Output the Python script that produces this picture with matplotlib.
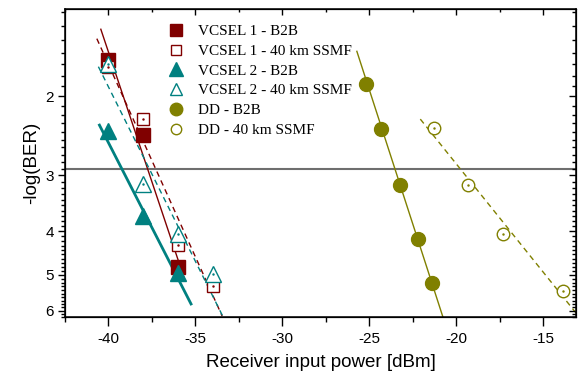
import numpy as np
import matplotlib.pyplot as plt
from matplotlib.lines import Line2D
from matplotlib.ticker import FixedLocator, MultipleLocator, NullFormatter

plt.rcParams['axes.unicode_minus'] = False

# measured points, -log(BER) vs received power (dBm)
vcsel1_b2b_x = [-40, -38, -36]
vcsel1_b2b_y = [1.66, 2.44, 4.81]
vcsel1_40_x = [-40, -38, -36, -34]
vcsel1_40_y = [1.72, 2.25, 4.28, 5.28]
vcsel2_b2b_x = [-40, -38, -36]
vcsel2_b2b_y = [2.39, 3.69, 4.96]
vcsel2_40_x = [-40, -38, -36, -34]
vcsel2_40_y = [1.70, 3.14, 4.05, 4.98]
dd_b2b_x = [-25.2, -24.3, -23.2, -22.2, -21.4]
dd_b2b_y = [1.88, 2.37, 3.16, 4.16, 5.22]
dd_40_x = [-21.3, -19.3, -17.3, -13.85]
dd_40_y = [2.35, 3.15, 4.05, 5.43]

# linear fit lines (end points)
fit_vcsel1_b2b_x = [-40.44, -35.63]
fit_vcsel1_b2b_y = [1.42, 5.10]
fit_vcsel1_40_x = [-40.67, -33.46]
fit_vcsel1_40_y = [1.49, 6.17]
fit_vcsel2_b2b_x = [-40.52, -35.25]
fit_vcsel2_b2b_y = [2.32, 5.80]
fit_vcsel2_40_x = [-40.58, -33.43]
fit_vcsel2_40_y = [1.72, 6.17]
fit_dd_b2b_x = [-25.71, -20.76]
fit_dd_b2b_y = [1.59, 6.2]
fit_dd_40_x = [-22.06, -12.99]
fit_dd_40_y = [2.25, 6.15]

fec_limit = 2.9

labels = ['VCSEL 1 - B2B', 'VCSEL 1 - 40 km SSMF', 'VCSEL 2 - B2B',
          'VCSEL 2 - 40 km SSMF', 'DD - B2B', 'DD - 40 km SSMF']

red = '#800000'
teal = '#008080'
olive = '#808000'

fig = plt.figure(figsize=(5.79, 3.78), dpi=100)
ax = fig.add_axes([0.1123, 0.1614, 0.8826, 0.8148])

dash = (4, 3)
# fit lines
ax.plot(fit_vcsel1_b2b_x, fit_vcsel1_b2b_y, color=red, lw=1)
ax.plot(fit_vcsel1_40_x, fit_vcsel1_40_y, color=red, lw=1, dashes=dash)
ax.plot(fit_vcsel2_b2b_x, fit_vcsel2_b2b_y, color=teal, lw=2)
ax.plot(fit_vcsel2_40_x, fit_vcsel2_40_y, color=teal, lw=1, dashes=dash)
ax.plot(fit_dd_b2b_x, fit_dd_b2b_y, color=olive, lw=1)
ax.plot(fit_dd_40_x, fit_dd_40_y, color=olive, lw=1, dashes=dash)

ax.axhline(fec_limit, color='#6e6e6e', lw=1.5, zorder=1)

# markers
ax.plot(vcsel1_b2b_x, vcsel1_b2b_y, 's', color=red, ms=10, mec=red)
ax.plot(vcsel1_40_x, vcsel1_40_y, 's', mfc='white', mec=red, ms=9, mew=1)
ax.plot(vcsel2_b2b_x, vcsel2_b2b_y, '^', color=teal, ms=11, mec=teal)
ax.plot(vcsel2_40_x, vcsel2_40_y, '^', mfc='white', mec=teal, ms=11, mew=1)
ax.plot(dd_b2b_x, dd_b2b_y, 'o', color=olive, ms=10, mec=olive)
ax.plot(dd_40_x, dd_40_y, 'o', mfc='white', mec=olive, ms=9, mew=1)
# small centre dots of the open symbols
ax.plot(vcsel1_40_x, vcsel1_40_y, '.', color=red, ms=1.5)
ax.plot(vcsel2_40_x, vcsel2_40_y, '.', color=teal, ms=1.5)
ax.plot(dd_40_x, dd_40_y, '.', color=olive, ms=1.5)

ax.set_yscale('log')
ax.set_xlim(-42.5, -13.1)
ax.set_ylim(6.2, 1.28)

major_y = [2, 3, 4, 5, 6]
minor_y = [v for v in np.round(np.arange(1.3, 6.25, 0.1), 1) if v not in major_y]
ax.yaxis.set_major_locator(FixedLocator(major_y))
ax.yaxis.set_minor_locator(FixedLocator(minor_y))
ax.yaxis.set_major_formatter(plt.FixedFormatter([str(v) for v in major_y]))
ax.yaxis.set_minor_formatter(NullFormatter())
ax.xaxis.set_major_locator(FixedLocator([-40, -35, -30, -25, -20, -15]))
ax.xaxis.set_minor_locator(MultipleLocator(2.5))

for lab in ax.get_xticklabels() + ax.get_yticklabels():
    lab.set_fontfamily('Liberation Sans')
    lab.set_fontsize(11)

ax.tick_params(axis='x', which='major', direction='out', length=6.5, width=1, pad=4)
ax.tick_params(axis='x', which='minor', direction='out', length=3.6, width=1)
ax.tick_params(axis='y', which='major', direction='out', length=5, width=1, pad=3)
ax.tick_params(axis='y', which='minor', direction='out', length=3, width=1)
for s in ax.spines.values():
    s.set_linewidth(1.1)

# top and right ticks point inward
axt = ax.twiny()
axt.set_xlim(ax.get_xlim())
axt.xaxis.set_major_locator(FixedLocator([-40, -35, -30, -25, -20, -15]))
axt.xaxis.set_minor_locator(MultipleLocator(2.5))
axt.tick_params(axis='x', which='major', direction='in', length=4.5, width=1, labeltop=False)
axt.tick_params(axis='x', which='minor', direction='in', length=2.5, width=1)
axr = ax.twinx()
axr.set_yscale('log')
axr.set_ylim(ax.get_ylim())
axr.yaxis.set_major_locator(FixedLocator(major_y))
axr.yaxis.set_minor_locator(FixedLocator(minor_y))
axr.yaxis.set_major_formatter(NullFormatter())
axr.yaxis.set_minor_formatter(NullFormatter())
axr.tick_params(axis='y', which='major', direction='in', length=5, width=1)
axr.tick_params(axis='y', which='minor', direction='in', length=3, width=1)

ax.set_xlabel('Receiver input power [dBm]', fontfamily='Liberation Sans', fontsize=13.5, labelpad=6)
ax.set_ylabel('-log(BER)', fontfamily='Liberation Sans', fontsize=13.5, labelpad=4)

handles = [
    Line2D([], [], ls='none', marker='s', color=red, ms=9),
    Line2D([], [], ls='none', marker='s', mfc='white', mec=red, ms=7.5, mew=1),
    Line2D([], [], ls='none', marker='^', color=teal, ms=10),
    Line2D([], [], ls='none', marker='^', mfc='white', mec=teal, ms=9, mew=1),
    Line2D([], [], ls='none', marker='o', color=olive, ms=9),
    Line2D([], [], ls='none', marker='o', mfc='white', mec=olive, ms=7.5, mew=1),
]
axr.legend(handles, labels, loc='upper left', bbox_to_anchor=(0.188, 0.97),
           frameon=False, prop=dict(family='Liberation Serif', size=11),
           handlelength=1.2, handletextpad=0.8, labelspacing=0.4,
           borderaxespad=0)

fig.savefig('out.png', dpi=100)
